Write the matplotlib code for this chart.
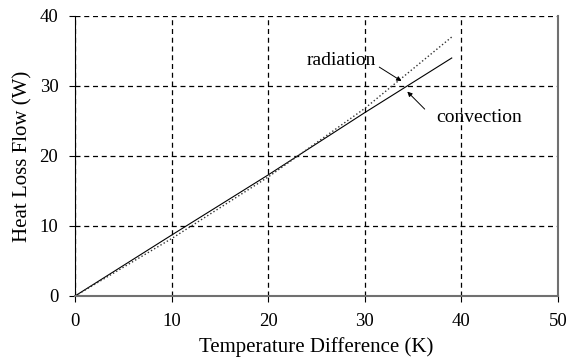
import matplotlib.pyplot as plt

# Heat loss vs temperature difference, read at a few points
delta_t = [0, 10, 20, 30, 39]
convection = [0, 8.7, 17.3, 26.2, 34.0]
radiation = [0, 8.2, 17.0, 26.8, 37.0]

plt.rcParams['font.family'] = ['Liberation Serif', 'DejaVu Serif']

fig = plt.figure(figsize=(5.8, 3.64), dpi=100)
ax = fig.add_axes([75 / 580, 68 / 364, 483 / 580, 280 / 364])

ax.plot(delta_t, convection, '-', color='black', lw=0.8)
ax.plot(delta_t, radiation, ':', color='#333333', lw=1.0)

ax.set_xlim(0, 50)
ax.set_ylim(0, 40)
ax.set_xticks([0, 10, 20, 30, 40, 50])
ax.set_yticks([0, 10, 20, 30, 40])
ax.grid(True, color='black', linestyle=(0, (4, 3)), lw=0.9)

ax.spines['top'].set_visible(False)
ax.spines['left'].set_color('black')
ax.spines['bottom'].set_color('#707070')
ax.spines['right'].set_color('#707070')
ax.spines['bottom'].set_linewidth(1.5)
ax.spines['right'].set_linewidth(1.5)
ax.tick_params(direction='out', length=4, width=0.8, labelsize=13.5, pad=8)

ax.set_xlabel('Temperature Difference (K)', fontsize=15, labelpad=5)
ax.set_ylabel('Heat Loss Flow (W)', fontsize=15, labelpad=5)

# Labels with arrows pointing at each curve
arrow = dict(arrowstyle='-|>', color='black', lw=0.7, mutation_scale=7,
             shrinkA=0, shrinkB=0)
ax.text(27.6, 33.7, 'radiation', fontsize=14, ha='center', va='center')
ax.annotate('', xy=(33.8, 30.7), xytext=(31.5, 32.7), arrowprops=arrow)
ax.text(41.8, 25.5, 'convection', fontsize=14, ha='center', va='center')
ax.annotate('', xy=(34.4, 29.2), xytext=(36.2, 26.7), arrowprops=arrow)

fig.savefig('out.png', dpi=100)
